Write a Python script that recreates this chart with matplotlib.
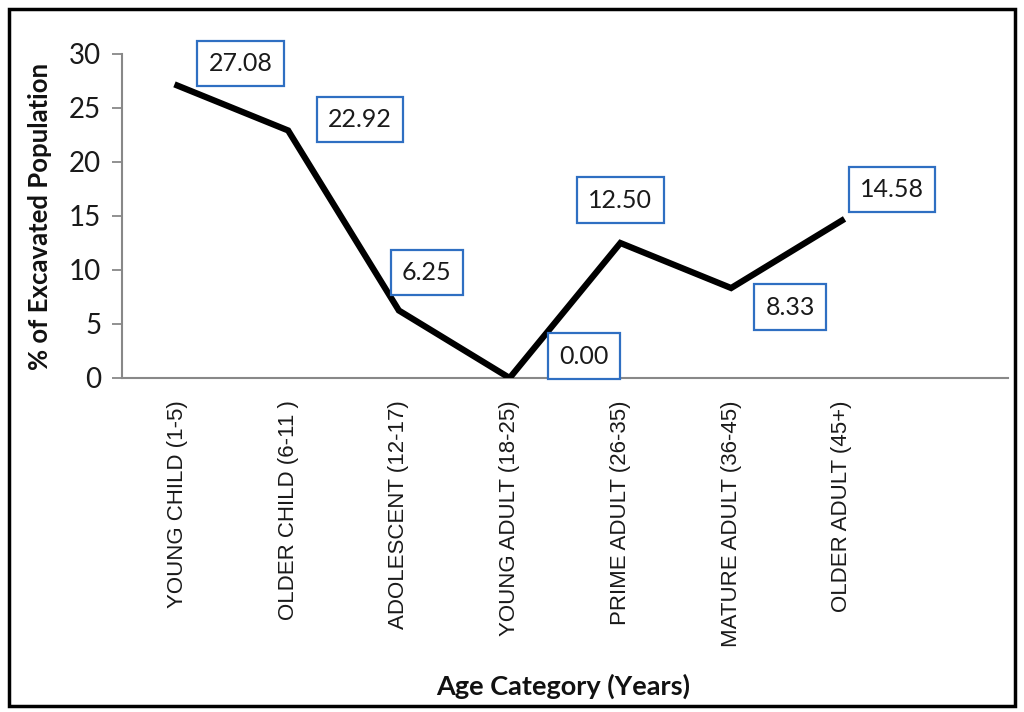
import matplotlib
matplotlib.use("Agg")
import matplotlib.pyplot as plt
from matplotlib.patches import Rectangle

categories = ["YOUNG CHILD (1-5)", "OLDER CHILD (6-11 )", "ADOLESCENT (12-17)",
              "YOUNG ADULT (18-25)", "PRIME ADULT (26-35)", "MATURE ADULT (36-45)",
              "OLDER ADULT (45+)"]
values = [27.08, 22.92, 6.25, 0.00, 12.50, 8.33, 14.58]
labels = ["27.08", "22.92", "6.25", "0.00", "12.50", "8.33", "14.58"]
# where each value box sits relative to its point (pixels)
offsets = [(63, 22), (72, 11), (28, 38), (74, 22), (0, 43), (59, -19), (50, 31)]

fig = plt.figure(figsize=(10.24, 7.12), dpi=100)
ax = fig.add_axes([122 / 1024, 1 - 378 / 712, 886 / 1024, 324 / 712])

x = list(range(len(categories)))
ax.plot(x, values, color="black", linewidth=4.5, solid_joinstyle="miter", zorder=3)

for xi, v, lab, off in zip(x, values, labels, offsets):
    ax.annotate(lab, (xi, v), xytext=off, textcoords="offset pixels",
                ha="center", va="center", fontsize=18, family="Lato", color="#1a1a1a",
                bbox=dict(boxstyle="square,pad=0.45", fc="white", ec="#2f6fc2", lw=1.6),
                zorder=4)

ax.set_xlim(-0.5, 7.5)
ax.set_ylim(0, 30)
ax.set_yticks([0, 5, 10, 15, 20, 25, 30])
ax.set_xticks(x)
ax.set_xticklabels(categories, rotation=90, family="Liberation Sans", fontsize=16,
                   color="#1a1a1a")
for t in ax.get_yticklabels():
    t.set_family("Lato")
    t.set_fontsize(20)
    t.set_color("#1a1a1a")
ax.tick_params(axis="x", length=0, pad=16)
ax.tick_params(axis="y", length=7, width=1.3, color="#888888", pad=8)

for s in ["top", "right"]:
    ax.spines[s].set_visible(False)
for s in ["left", "bottom"]:
    ax.spines[s].set_color("#888888")
    ax.spines[s].set_linewidth(1.5)

ax.set_ylabel("% of Excavated Population", family="Lato", fontweight="bold",
              fontsize=18.5, color="#111111", labelpad=12)
fig.text(563 / 1024, 1 - 686 / 712, "Age Category (Years)", family="Lato",
         fontweight="bold", fontsize=19.5, color="#111111", ha="center", va="center")

# outer frame
fig.patches.append(Rectangle((9 / 1024, 6 / 712), 1006 / 1024, 697 / 712,
                             transform=fig.transFigure, fill=False,
                             ec="black", lw=2.5))

fig.savefig("out.png", dpi=100)
